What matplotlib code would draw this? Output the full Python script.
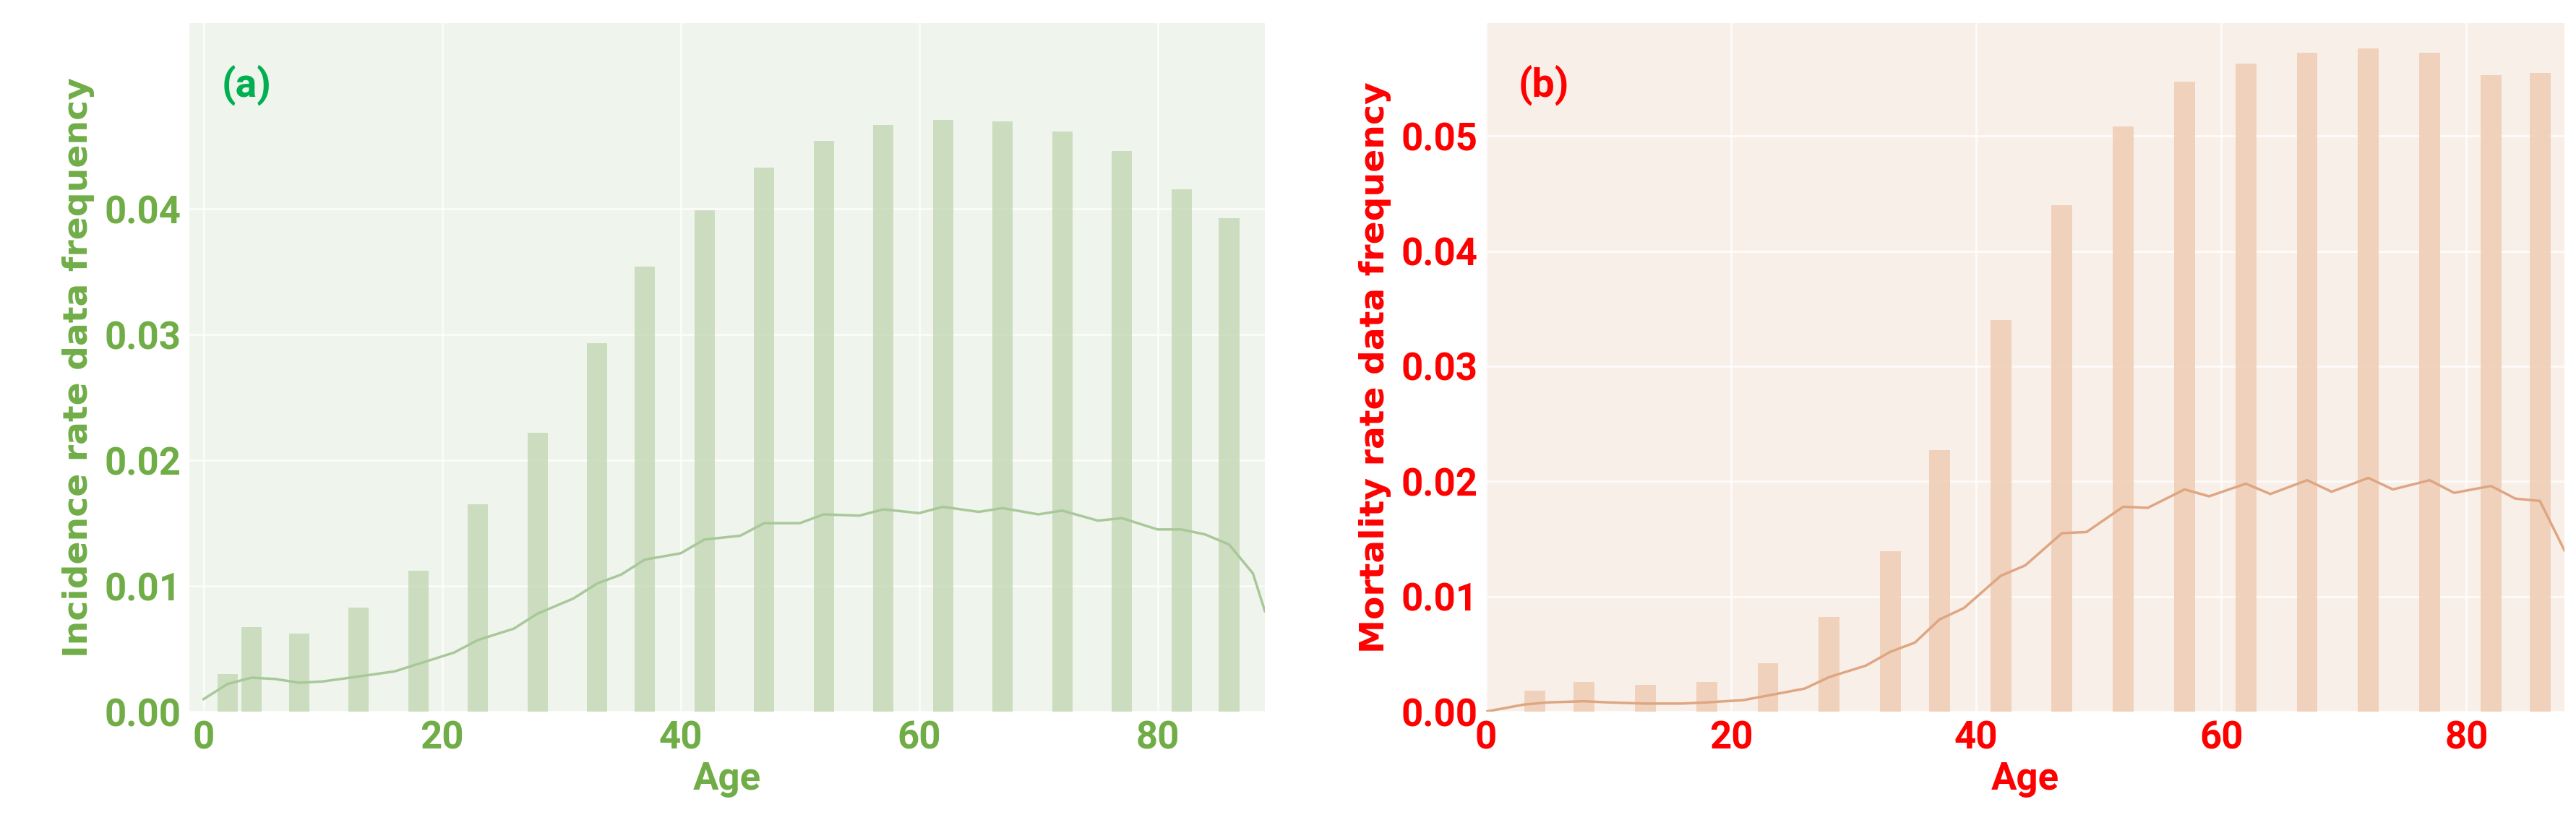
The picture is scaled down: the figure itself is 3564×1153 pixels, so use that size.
import matplotlib
matplotlib.use("Agg")
import matplotlib.pyplot as plt
from matplotlib import font_manager as fm

ages = [2, 4, 8, 13, 18, 23, 28, 33, 37, 42, 47, 52, 57, 62, 67, 72, 77, 82, 86]
inc_freq = [0.0030, 0.0067, 0.0062, 0.0083, 0.0112, 0.0165, 0.0222, 0.0293, 0.0354, 0.0399,
            0.0433, 0.0454, 0.0467, 0.0471, 0.0470, 0.0462, 0.0446, 0.0416, 0.0393]
ages_b = [4, 8, 13, 18, 23, 28, 33, 37, 42, 47, 52, 57, 62, 67, 72, 77, 82, 86]
mor_freq = [0.0018, 0.0026, 0.0023, 0.0026, 0.0042, 0.0082, 0.0139, 0.0227, 0.0340, 0.0440,
            0.0508, 0.0547, 0.0563, 0.0572, 0.0576, 0.0572, 0.0553, 0.0555]
kde_a_x = [0, 2, 4, 6, 8, 10, 13, 16, 18, 21, 23, 26, 28, 31, 33, 35, 37, 40, 42, 45, 47, 50, 52, 55, 57, 60, 62, 65, 67, 70, 72, 75, 77, 80, 82, 84, 86, 88, 89]
kde_a_y = [0.0010, 0.0022, 0.0027, 0.0026, 0.0023, 0.0024, 0.0028, 0.0032, 0.0038, 0.0047, 0.0057, 0.0066, 0.0078, 0.0090, 0.0102, 0.0109, 0.0121, 0.0126, 0.0137, 0.0140, 0.0150, 0.0150, 0.0157, 0.0156, 0.0161, 0.0158, 0.0163, 0.0159, 0.0162, 0.0157, 0.0160, 0.0152, 0.0154, 0.0145, 0.0145, 0.0141, 0.0133, 0.0110, 0.0080]
kde_b_x = [0, 3, 5, 8, 10, 13, 16, 18, 21, 23, 26, 28, 31, 33, 35, 37, 39, 42, 44, 47, 49, 52, 54, 57, 59, 62, 64, 67, 69, 72, 74, 77, 79, 82, 84, 86, 88]
kde_b_y = [0.0000, 0.0006, 0.0008, 0.0009, 0.0008, 0.0007, 0.0007, 0.0008, 0.0010, 0.0014, 0.0020, 0.0030, 0.0040, 0.0052, 0.0060, 0.0080, 0.0090, 0.0118, 0.0127, 0.0155, 0.0156, 0.0178, 0.0177, 0.0193, 0.0187, 0.0198, 0.0189, 0.0201, 0.0191, 0.0203, 0.0193, 0.0201, 0.0190, 0.0196, 0.0185, 0.0183, 0.0140]

avail = {f.name for f in fm.fontManager.ttflist}
tickfont = "Liberation Sans Narrow" if "Liberation Sans Narrow" in avail else "Roboto"

fig = plt.figure(figsize=(35.64, 11.53), dpi=100)
axa = fig.add_axes([262/3564, 1-985/1153, 1488/3564, 953/1153])
axb = fig.add_axes([2056/3564, 1-985/1153, 1492/3564, 953/1153])

def style(ax, bg, tc, xlim, ylim, yticks, ylabel, label, lc):
    ax.set_facecolor(bg)
    ax.grid(True, color="white", lw=2, alpha=0.8)
    ax.set_axisbelow(True)
    for s in ax.spines.values():
        s.set_visible(False)
    ax.set_xlim(*xlim); ax.set_ylim(*ylim)
    ax.set_xticks([0, 20, 40, 60, 80])
    ax.set_yticks(yticks)
    ax.set_yticklabels([f"{t:.2f}" for t in yticks])
    ax.tick_params(length=0, labelsize=38, labelcolor=tc, pad=8)
    for t in ax.get_xticklabels() + ax.get_yticklabels():
        t.set_fontfamily(tickfont); t.set_fontweight("bold")
    ax.set_xlabel("Age", fontsize=38, color=tc, fontweight="bold", family=tickfont, labelpad=4)
    ax.set_ylabel(ylabel, fontsize=34, color=tc, fontweight="bold", family="DejaVu Sans", labelpad=10)
    ax.text(0.03, 0.91, label, transform=ax.transAxes, fontsize=40, color=lc,
            fontweight="bold", family=tickfont, va="center")

axa.bar(ages, inc_freq, width=1.7, color="#c6dab7", alpha=0.85)
axa.plot(kde_a_x, kde_a_y, color="#a9c89a", lw=2.5)
style(axa, "#eff4ec", "#70ad47", (-1.2, 89), (0, 0.0548), [0, 0.01, 0.02, 0.03, 0.04],
      "Incidence rate data frequency", "(a)", "#00b050")

axb.bar(ages_b, mor_freq, width=1.7, color="#efcfb7", alpha=0.9)
axb.plot(kde_b_x, kde_b_y, color="#dea682", lw=2.5)
style(axb, "#f9efe9", "#ff0000", (0, 88), (0, 0.0598), [0, 0.01, 0.02, 0.03, 0.04, 0.05],
      "Mortality rate data frequency", "(b)", "#ff0000")

fig.savefig("out.png", dpi=100)
